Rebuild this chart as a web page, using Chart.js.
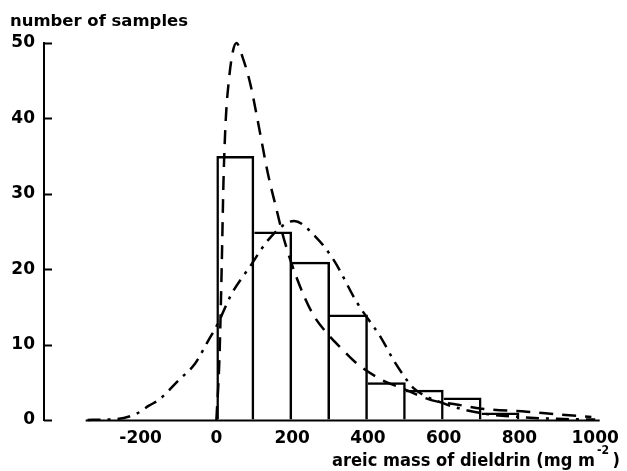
<!DOCTYPE html>
<html>
<head>
<meta charset="utf-8">
<script src="https://cdn.jsdelivr.net/npm/chart.js@4/dist/chart.umd.min.js"></script>
<style>
  body { margin: 0; background: #fff; }
  #wrap { width: 627px; height: 471px; }
</style>
</head>
<body>
<div id="wrap"><canvas id="myChart"></canvas></div>
<script>
// histogram bins (width 100)
const binCenters = [50, 150, 250, 350, 450, 550, 650, 750];
const binCounts = [35, 25, 21, 14, 5, 4, 3, 1];

// dashed curve
const dashX = [0, 8, 14, 19, 25, 33, 42, 53, 70, 90, 110, 136, 157, 179, 214, 253, 292, 330, 371, 430, 500, 570, 630, 700, 820, 910, 990];
const dashY = [0, 8, 20, 32, 40, 45, 48.5, 50, 48, 44.5, 39.5, 32.7, 28.3, 23.9, 18.6, 14.2, 11.5, 9.5, 7.5, 5.5, 4, 2.6, 2.1, 1.5, 1.1, 0.7, 0.4];

// dash-dot curve
const dotX = [-340, -300, -265, -208, -178, -151, -99, -56, -25, 5, 40, 88, 144, 205, 262, 310, 371, 436, 467, 493, 519, 600, 700, 800, 900, 1000];
const dotY = [0, 0.05, 0.1, 0.9, 1.9, 2.7, 5.3, 7.5, 10.2, 12.9, 16.7, 20.3, 24.3, 26.4, 24.3, 21.2, 15.6, 10.8, 8, 6, 4.3, 2.2, 0.9, 0.4, 0.15, 0.05];

const xTicks = [-200, 0, 200, 400, 600, 800, 1000];
const yTicks = [0, 10, 20, 30, 40, 50];
const xAxisStart = -345;

const yTitle = 'number of samples';
const xTitle = 'areic mass of dieldrin (mg m';
const xTitleSup = '-2';

const fontFam = '"DejaVu Sans", sans-serif';
const barLine = 2.5;

function pts(xs, ys) {
  return xs.map((x, i) => ({ x: x, y: ys[i] }));
}

// one line per shared bar edge: the taller neighbour draws it
function barBorder(c) {
  const i = c.dataIndex, n = binCounts.length;
  return {
    top: barLine,
    bottom: 0,
    left: (i === 0 || binCounts[i] > binCounts[i - 1]) ? barLine : 0,
    right: (i === n - 1 || binCounts[i] >= binCounts[i + 1]) ? barLine : 0
  };
}

const axisBits = {
  id: 'axisBits',
  afterDraw(chart) {
    const ctx = chart.ctx;
    const xs = chart.scales.x, ys = chart.scales.y;
    const area = chart.chartArea;
    ctx.save();
    ctx.strokeStyle = '#000';
    ctx.lineWidth = 2;
    // inward tick marks on y axis
    yTicks.forEach(v => {
      const py = Math.round(ys.getPixelForValue(v)) + 0.5;
      ctx.beginPath();
      ctx.moveTo(area.left, py);
      ctx.lineTo(area.left + 8, py);
      ctx.stroke();
    });
    // x axis line, detached from y axis
    const by = Math.round(ys.getPixelForValue(0)) + 0.5;
    ctx.beginPath();
    ctx.moveTo(xs.getPixelForValue(xAxisStart), by);
    ctx.lineTo(area.right, by);
    ctx.stroke();
    // titles
    ctx.fillStyle = '#000';
    ctx.textBaseline = 'alphabetic';
    ctx.textAlign = 'left';
    ctx.font = 'bold 16px ' + fontFam;
    const yw = ctx.measureText(yTitle).width;
    ctx.save();
    ctx.translate(10, 26);
    ctx.scale(178 / yw, 1);
    ctx.fillText(yTitle, 0, 0);
    ctx.restore();

    // x title, squeezed to the narrow lettering of the original
    ctx.font = 'bold 18px ' + fontFam;
    const mainW = ctx.measureText(xTitle).width;
    ctx.font = 'bold 12px ' + fontFam;
    const supW = ctx.measureText(xTitleSup).width;
    ctx.font = 'bold 18px ' + fontFam;
    const parW = ctx.measureText(')').width;
    const fullW = mainW + 2 + supW + 4 + parW;
    const k = 288 / fullW;
    ctx.save();
    ctx.translate(332, 466);
    ctx.scale(k, 1);
    ctx.fillText(xTitle, 0, 0);
    ctx.font = 'bold 12px ' + fontFam;
    ctx.fillText(xTitleSup, mainW + 2, -12);
    ctx.font = 'bold 18px ' + fontFam;
    ctx.fillText(')', mainW + 2 + supW + 4, 0);
    ctx.restore();
    ctx.restore();
  }
};

const ctx = document.getElementById('myChart').getContext('2d');
let myChart = new Chart(ctx, {
  type: 'bar',
  data: {
    datasets: [
      {
        type: 'bar',
        data: pts(binCenters, binCounts),
        backgroundColor: 'rgba(255,255,255,0)',
        borderColor: '#000',
        borderWidth: barBorder,
        borderSkipped: false,
        inflateAmount: 0,
        barPercentage: 1,
        categoryPercentage: 1
      },
      {
        type: 'line',
        data: pts(dashX, dashY),
        borderColor: '#000',
        borderWidth: 2.5,
        borderDash: [14, 9],
        pointRadius: 0,
        cubicInterpolationMode: 'monotone',
        fill: false,
        clip: false
      },
      {
        type: 'line',
        data: pts(dotX, dotY),
        borderColor: '#000',
        borderWidth: 2.5,
        borderDash: [13, 7, 3, 7],
        pointRadius: 0,
        cubicInterpolationMode: 'monotone',
        fill: false,
        clip: false
      }
    ]
  },
  options: {
    responsive: true,
    maintainAspectRatio: false,
    animation: false,
    layout: { padding: { top: 43, right: 22, left: 0, bottom: 0 } },
    plugins: {
      legend: { display: false },
      tooltip: { enabled: false }
    },
    scales: {
      x: {
        type: 'linear',
        offset: false,
        min: -455,
        max: 1012,
        grid: { display: false, drawTicks: false },
        border: { display: false },
        afterBuildTicks: s => { s.ticks = xTicks.map(v => ({ value: v })); },
        afterFit: s => { s.height = 51; },
        ticks: {
          color: '#000',
          padding: 8,
          maxRotation: 0,
          autoSkip: false,
          font: { family: fontFam, size: 17, weight: 'bold' },
          callback: v => String(v)
        }
      },
      y: {
        min: 0,
        max: 50,
        grid: { drawOnChartArea: false, drawTicks: false },
        border: { display: true, color: '#000', width: 2 },
        afterBuildTicks: s => { s.ticks = yTicks.map(v => ({ value: v })); },
        afterFit: s => { s.width = 44; },
        ticks: {
          color: '#000',
          padding: 9,
          font: { family: fontFam, size: 17, weight: 'bold' },
          callback: v => String(v)
        }
      }
    }
  },
  plugins: [axisBits]
});
</script>
</body>
</html>
